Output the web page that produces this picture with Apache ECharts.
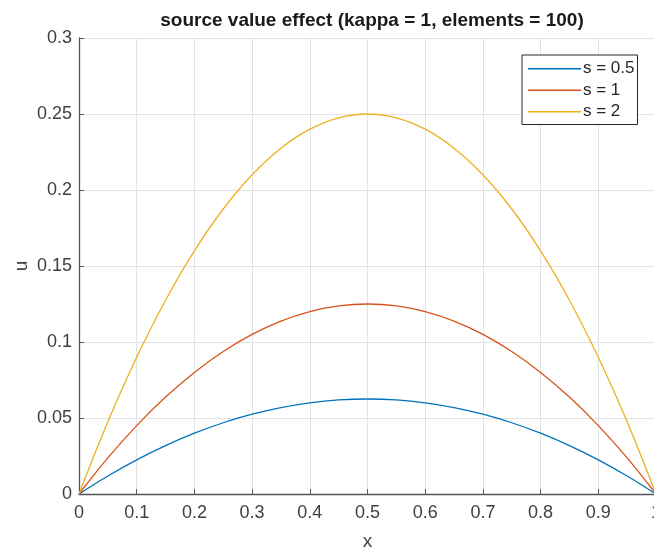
<!DOCTYPE html>
<html>
<head>
<meta charset="utf-8">
<script src="https://cdn.jsdelivr.net/npm/echarts@6/dist/echarts.min.js"></script>
<style>
  html, body { margin: 0; padding: 0; background: #fff; }
  #chart { width: 654px; height: 547px; }
</style>
</head>
<body>
<div id="chart"></div>
<script>
// Sample positions along the rod
const xs = [0, 0.05, 0.1, 0.15, 0.2, 0.25, 0.3, 0.35, 0.4, 0.45, 0.5,
            0.55, 0.6, 0.65, 0.7, 0.75, 0.8, 0.85, 0.9, 0.95, 1];

// Solution u(x) for each source value
const uS05 = [0, 0.011875, 0.0225, 0.031875, 0.04, 0.046875, 0.0525, 0.056875, 0.06, 0.061875, 0.0625,
              0.061875, 0.06, 0.056875, 0.0525, 0.046875, 0.04, 0.031875, 0.0225, 0.011875, 0];
const uS1  = [0, 0.02375, 0.045, 0.06375, 0.08, 0.09375, 0.105, 0.11375, 0.12, 0.12375, 0.125,
              0.12375, 0.12, 0.11375, 0.105, 0.09375, 0.08, 0.06375, 0.045, 0.02375, 0];
const uS2  = [0, 0.0475, 0.09, 0.1275, 0.16, 0.1875, 0.21, 0.2275, 0.24, 0.2475, 0.25,
              0.2475, 0.24, 0.2275, 0.21, 0.1875, 0.16, 0.1275, 0.09, 0.0475, 0];

const seriesNames = ['s = 0.5', 's = 1', 's = 2'];
const seriesColors = ['#0072BD', '#D95319', '#EDB120'];

const FONT = 'Liberation Sans, Arial, sans-serif';
const AXIS_COLOR = '#555555';
const TEXT_COLOR = '#404040';

function pairs(ys) { return xs.map((x, i) => [x, ys[i]]); }

const chart = echarts.init(document.getElementById('chart'), null, { renderer: 'canvas' });

const lineSeries = [uS05, uS1, uS2].map((ys, i) => ({
  name: seriesNames[i],
  type: 'line',
  data: pairs(ys),
  smooth: 0.35,
  symbol: 'none',
  lineStyle: { width: 1.3, color: seriesColors[i] },
  itemStyle: { color: seriesColors[i] }
}));

chart.setOption({
  backgroundColor: '#ffffff',
  animation: false,
  title: {
    text: 'source value effect (kappa = 1, elements = 100)',
    left: 367, textAlign: 'center', top: 6,
    textStyle: { fontFamily: FONT, fontSize: 19, fontWeight: 'bold', color: '#1a1a1a' }
  },
  grid: { left: 79, right: -2, top: 38, bottom: 53, outerBoundsMode: 'none' },
  legend: {
    orient: 'vertical',
    left: 522, top: 55,
    data: seriesNames,
    icon: 'rect',
    itemWidth: 53, itemHeight: 1.5, itemGap: 0,
    padding: [3, 3, 2, 6],
    borderColor: '#262626', borderWidth: 1, borderRadius: 0,
    backgroundColor: '#ffffff',
    textStyle: { fontFamily: FONT, fontSize: 17, color: '#262626', lineHeight: 21.5, padding: [0, 0, 0, -3] }
  },
  xAxis: {
    type: 'value',
    min: 0, max: 1, interval: 0.1,
    name: 'x', nameLocation: 'middle', nameGap: 38, nameMoveOverlap: false,
    nameTextStyle: { fontFamily: FONT, fontSize: 19, color: TEXT_COLOR },
    axisLine: { show: true, lineStyle: { color: AXIS_COLOR, width: 1.3 } },
    axisTick: { show: true, inside: true, length: 5, lineStyle: { color: AXIS_COLOR } },
    axisLabel: {
      fontFamily: FONT, fontSize: 18, color: TEXT_COLOR, margin: 10,
      formatter: v => String(Math.round(v * 10) / 10),
      showMaxLabel: true, showMinLabel: true
    },
    splitLine: { show: true, lineStyle: { color: '#e3e3e3', width: 1 } }
  },
  yAxis: {
    type: 'value',
    min: 0, max: 0.3, interval: 0.05,
    name: 'u', nameLocation: 'middle', nameGap: 48, nameMoveOverlap: false,
    nameTextStyle: { fontFamily: FONT, fontSize: 19, color: TEXT_COLOR },
    axisLine: { show: true, lineStyle: { color: AXIS_COLOR, width: 1.3 } },
    axisTick: { show: true, inside: true, length: 5, lineStyle: { color: AXIS_COLOR } },
    axisLabel: {
      fontFamily: FONT, fontSize: 18, color: TEXT_COLOR, margin: 7,
      formatter: v => String(Math.round(v * 100) / 100)
    },
    splitLine: { show: true, lineStyle: { color: '#e3e3e3', width: 1 } }
  },
  series: lineSeries
});
</script>
</body>
</html>
